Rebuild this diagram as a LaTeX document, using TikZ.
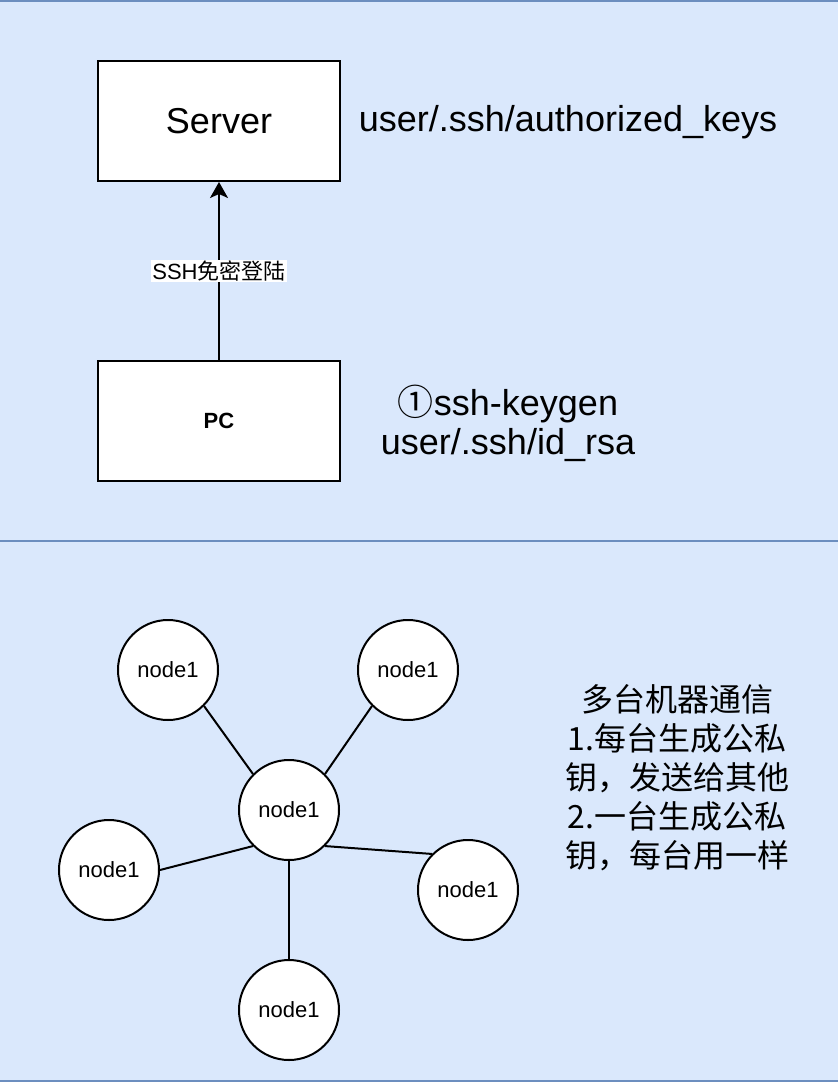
\documentclass[tikz,border=0pt]{standalone}
\usepackage{fontspec}
\setmainfont{Liberation Sans}
\newfontfamily\cjk{Noto Sans CJK SC}
\usetikzlibrary{positioning}
\usetikzlibrary{arrows.meta}
\definecolor{panelfill}{HTML}{DAE8FC}
\definecolor{paneldraw}{HTML}{6C8EBF}
\tikzstyle{panel} = [fill=panelfill, draw=paneldraw, line width=2pt]
\tikzstyle{box} = [rectangle, fill=white, draw=black, line width=2pt, minimum width=242pt, minimum height=120pt, inner sep=0pt]
\tikzstyle{host} = [circle, fill=white, draw=black, line width=2pt, minimum size=100pt, inner sep=0pt, font=\fontsize{22}{26}\selectfont]
\tikzstyle{note} = [align=center, inner sep=0pt, font=\fontsize{36}{39}\selectfont]
\tikzstyle{link} = [draw=black, line width=2pt]

\begin{document}
\begin{tikzpicture}[x=1pt, y=-1pt]
\useasboundingbox (0,0) rectangle (838,1082);

% Panels
\draw[panel] (-5,1) rectangle (843,541);
\draw[panel] (-5,541) rectangle (843,1081);

% Define nodes
\node[box, font=\fontsize{36}{43}\selectfont] at (219,121) (server) {Server};
\node[box, font=\bfseries\fontsize{22}{26}\selectfont] at (219,421) (pc) {PC};
\node[note] at (568,122) (keys) {user/.ssh/authorized\_keys};
\node[note] at (508,423) (keygen) {{\cjk ①}ssh-keygen\\user/.ssh/id\_rsa};

\node[host] at (289,810) (hub) {node1};
\node[host] at (168,670) (n1) {node1};
\node[host] at (408,670) (n2) {node1};
\node[host] at (109,870) (n3) {node1};
\node[host] at (468,890) (n4) {node1};
\node[host, below = 200pt of hub.center, anchor=center] (n5) {node1};

\node[note, font=\cjk\fontsize{32}{39}\selectfont] at (677,778) (memo) {多台机器通信\\1.每台生成公私\\钥，发送给其他\\2.一台生成公私\\钥，每台用一样};

% Edges
\draw[link, -{Stealth[length=16pt, width=18pt, inset=4pt]}] (pc) -- (server)
  node[midway, fill=white, inner sep=1pt, font=\fontsize{22}{26}\selectfont] (login) {SSH{\cjk 免密登陆}};
\foreach \a/\n/\b in {north west/n1/south east, north east/n2/south west, south west/n3/east, south east/n4/north west, south/n5/north}
  \draw[link] (hub.\a) -- (\n.\b);

\end{tikzpicture}
\end{document}
